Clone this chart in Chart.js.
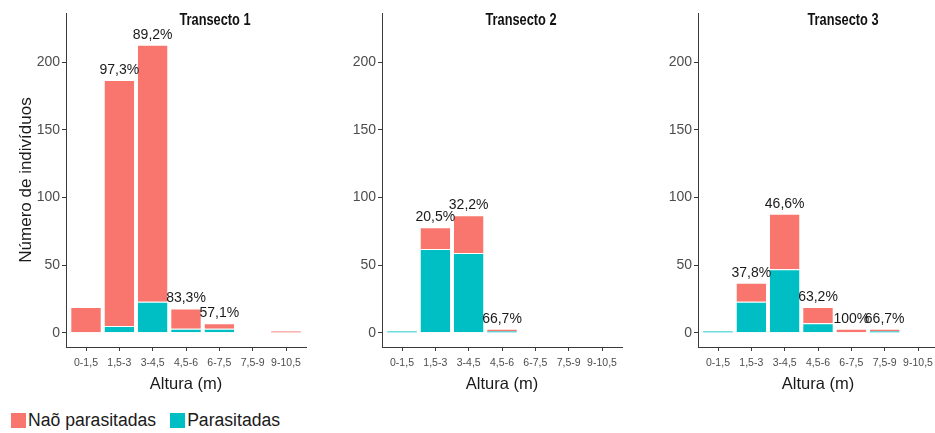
<!DOCTYPE html>
<html>
<head>
<meta charset="utf-8">
<script src="https://cdn.jsdelivr.net/npm/chart.js@4.4.1/dist/chart.umd.min.js"></script>
<style>
  html, body { margin: 0; padding: 0; background: #fff; width: 935px; height: 433px; overflow: hidden; }
  canvas { position: absolute; top: 0; }
  #legend { position: absolute; left: 11px; top: 410px; display: flex; align-items: center;
            font-family: 'Liberation Sans', Arial, sans-serif; font-size: 17.6px; color: #1a1a1a; }
  #legend .key { width: 15px; height: 15px; display: inline-block; margin-right: 2px; }
  #legend .item { display: flex; align-items: center; margin-right: 14px; }
</style>
</head>
<body>
<canvas id="c1" width="316" height="400" style="left:0px"></canvas>
<canvas id="c2" width="290" height="400" style="left:342px"></canvas>
<canvas id="c3" width="290" height="400" style="left:658px"></canvas>
<div id="legend">
  <span class="item"><span class="key" style="background:#F8766D"></span>Naõ parasitadas</span>
  <span class="item"><span class="key" style="background:#00BFC4"></span>Parasitadas</span>
</div>
<script>
// Height classes (m)
const categories = ['0-1,5', '1,5-3', '3-4,5', '4,5-6', '6-7,5', '7,5-9', '9-10,5'];
const yTicks = [0, 50, 100, 150, 200];

// Number of individuals per height class
const t1Parasitadas = [0, 5, 23, 3, 3, 0, 0];
const t1NaoParasitadas = [19, 182, 190, 15, 4, 0, 1];
const t1Percent = [null, '97,3%', '89,2%', '83,3%', '57,1%', null, null];

const t2Parasitadas = [1, 62, 59, 1, 0, 0, 0];
const t2NaoParasitadas = [0, 16, 28, 2, 0, 0, 0];
const t2Percent = [null, '20,5%', '32,2%', '66,7%', null, null, null];

const t3Parasitadas = [1, 23, 47, 7, 0, 1, 0];
const t3NaoParasitadas = [0, 14, 41, 12, 3, 2, 0];
const t3Percent = [null, '37,8%', '46,6%', '63,2%', '100%', '66,7%', null];

const PINK = '#F8766D';
const TEAL = '#00BFC4';
const AXIS = '#3a3a3a';
const TICK_TEXT = '#4d4d4d';
const FONT = "'Liberation Sans', Arial, sans-serif";

// Percentage labels above each stacked bar
const percentLabels = {
  id: 'percentLabels',
  afterDatasetsDraw(chart, args, opts) {
    const { ctx, scales } = chart;
    const a = chart.data.datasets[0].data;
    const b = chart.data.datasets[1].data;
    ctx.save();
    ctx.font = '14px ' + FONT;
    ctx.fillStyle = '#1a1a1a';
    ctx.textAlign = 'center';
    ctx.textBaseline = 'middle';
    opts.labels.forEach((lbl, i) => {
      if (!lbl) return;
      const total = a[i].y + b[i].y;
      ctx.fillText(lbl, scales.x.getPixelForValue(i), scales.y.getPixelForValue(total) - 10);
    });
    ctx.restore();
  }
};

// Facet heading drawn at the top of each panel (bold, horizontally condensed)
const panelHeading = {
  id: 'panelHeading',
  afterDraw(chart, args, opts) {
    const { ctx, chartArea } = chart;
    const cx = chartArea.left + opts.dx;
    ctx.save();
    ctx.font = 'bold 16px ' + FONT;
    ctx.fillStyle = '#111';
    ctx.textAlign = 'center';
    ctx.textBaseline = 'middle';
    ctx.translate(cx, 20.5);
    ctx.scale(0.8, 1);
    ctx.fillText(opts.text, 0, 0);
    ctx.restore();
  }
};

function makePanel(canvasId, parasitadas, naoParasitadas, labels, heading, headingDx, yWidth, showYTitle) {
  const toPoints = arr => arr.map((v, i) => ({ x: i, y: v }));
  const edge = ctx => (ctx.raw && ctx.raw.y >= 2) ? { top: 1, left: 0, right: 0, bottom: 0 } : 0;
  return new Chart(document.getElementById(canvasId), {
    type: 'bar',
    data: {
      datasets: [
        { label: 'Parasitadas', data: toPoints(parasitadas), backgroundColor: TEAL,
          borderColor: '#ffffff', borderWidth: edge, borderSkipped: false,
          barPercentage: 0.89, categoryPercentage: 1 },
        { label: 'Naõ parasitadas', data: toPoints(naoParasitadas), backgroundColor: PINK,
          borderColor: '#ffffff', borderWidth: edge, borderSkipped: false,
          barPercentage: 0.89, categoryPercentage: 1 }
      ]
    },
    options: {
      responsive: false,
      animation: false,
      devicePixelRatio: 1,
      layout: { padding: { top: 13, right: 10, left: 0, bottom: 0 } },
      plugins: {
        legend: { display: false },
        tooltip: { enabled: false },
        percentLabels: { labels },
        panelHeading: { text: heading, dx: headingDx }
      },
      scales: {
        x: {
          type: 'linear',
          stacked: true,
          offset: false,
          min: -0.6,
          max: 6.6,
          afterBuildTicks: axis => { axis.ticks = categories.map((c, i) => ({ value: i })); },
          afterFit: axis => { axis.height = 53; },
          ticks: {
            callback: v => categories[v],
            font: { family: FONT, size: 10.5 },
            color: TICK_TEXT,
            padding: 6,
            maxRotation: 0,
            autoSkip: false
          },
          grid: { drawOnChartArea: false, drawTicks: true, tickLength: 4, color: AXIS, offset: false },
          border: { display: true, color: AXIS, width: 1 },
          title: {
            display: true,
            text: 'Altura (m)',
            font: { family: FONT, size: 16.5 },
            color: '#1a1a1a',
            padding: { top: 0, bottom: 6 }
          }
        },
        y: {
          type: 'linear',
          stacked: true,
          min: -10.5,
          max: 236.5,
          afterBuildTicks: axis => { axis.ticks = yTicks.map(v => ({ value: v })); },
          afterFit: axis => { axis.width = yWidth; },
          ticks: {
            font: { family: FONT, size: 14 },
            color: TICK_TEXT,
            padding: 2
          },
          grid: { drawOnChartArea: false, drawTicks: true, tickLength: 4, color: AXIS },
          border: { display: true, color: AXIS, width: 1 },
          title: {
            display: showYTitle,
            text: 'Número de indivíduos',
            font: { family: FONT, size: 17 },
            color: '#1a1a1a',
            padding: { top: 16, bottom: 0 }
          }
        }
      }
    },
    plugins: [percentLabels, panelHeading]
  });
}

makePanel('c1', t1Parasitadas, t1NaoParasitadas, t1Percent, 'Transecto 1', 149, 66, true);
makePanel('c2', t2Parasitadas, t2NaoParasitadas, t2Percent, 'Transecto 2', 139, 40, false);
makePanel('c3', t3Parasitadas, t3NaoParasitadas, t3Percent, 'Transecto 3', 145, 40, false);
</script>
</body>
</html>
